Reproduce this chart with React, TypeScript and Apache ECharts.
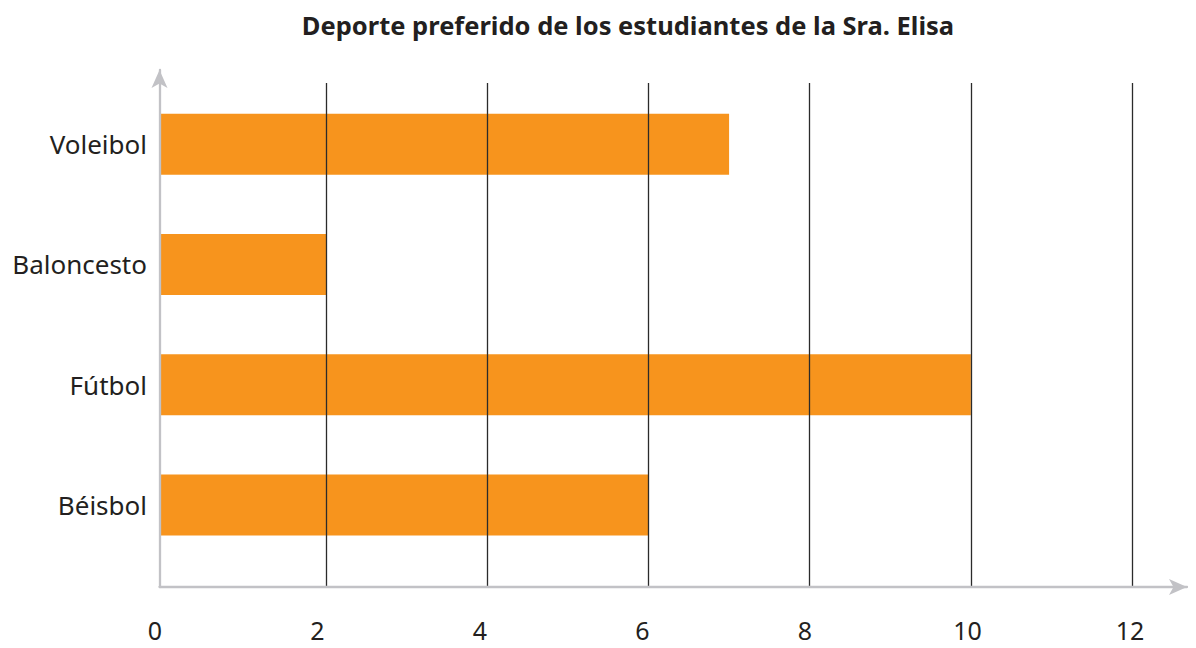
import React, { useEffect, useRef } from "react";
import * as echarts from "echarts";

const categories = ["Voleibol", "Baloncesto", "Fútbol", "Béisbol"];
const values = [7, 2, 10, 6];
const xMin = 0;
const xMax = 12;
const xInterval = 2;
const title = "Deporte preferido de los estudiantes de la Sra. Elisa";

const FONT = "Noto Sans";
const TEXT = "#231f20";
const AXIS = "#c2c2c6";

export default function App() {
  const ref = useRef<HTMLDivElement>(null);
  useEffect(() => {
    document.body.style.margin = "0";
    const chart = echarts.init(ref.current!, null, { renderer: "svg" });
    const option: any = {
      animation: false,
      backgroundColor: "#ffffff",
      textStyle: { fontFamily: FONT },
      graphic: [
        {
          type: "text",
          x: 628,
          y: 25,
          style: {
            text: title,
            fontFamily: FONT,
            fontWeight: "bold",
            fontSize: 25.5,
            fill: TEXT,
            textAlign: "center",
            textVerticalAlign: "middle",
          },
        },
      ],
      grid: [
        { left: 165, right: 64, top: 84, bottom: 83 },
        { left: 165, right: 64, top: 83, bottom: 61 },
        { left: 155, right: 66, top: 83, bottom: 61 },
        { left: 159.5, right: 9, top: 70, bottom: 61 },
      ],
      xAxis: [
        {
          gridIndex: 0, type: "value", min: xMin, max: xMax, startValue: -0.065,
          show: false,
        },
        {
          gridIndex: 1, type: "value", min: xMin, max: xMax, interval: xInterval,
          axisLine: { show: false }, axisTick: { show: false }, axisLabel: { show: false },
          splitLine: { show: true, showMinLine: false, showMaxLine: true, lineStyle: { color: "#2b2b2b", width: 1.3 } },
          z: 3,
        },
        {
          gridIndex: 2, type: "value", min: xMin, max: xMax, interval: xInterval,
          axisLine: { show: false }, axisTick: { show: false }, splitLine: { show: false },
          axisLabel: { show: true, margin: 30, fontSize: 25, color: TEXT, fontFamily: FONT },
        },
        {
          gridIndex: 3, type: "value", min: 0, max: 1,
          axisLine: { show: true, symbol: ["none", "arrow"], symbolSize: [12, 18], lineStyle: { color: AXIS, width: 2.3 } },
          axisTick: { show: false }, axisLabel: { show: false }, splitLine: { show: false },
          z: 4,
        },
      ],
      yAxis: [
        {
          gridIndex: 0, type: "category", data: categories, inverse: true,
          axisLine: { show: false }, axisTick: { show: false }, splitLine: { show: false },
          axisLabel: { show: true, margin: 18, fontSize: 26, color: TEXT, fontFamily: FONT },
        },
        { gridIndex: 1, type: "value", min: 0, max: 1, show: false },
        { gridIndex: 2, type: "value", min: 0, max: 1, show: false },
        {
          gridIndex: 3, type: "value", min: 0, max: 1,
          axisLine: { show: true, symbol: ["none", "arrow"], symbolSize: [12, 18], lineStyle: { color: AXIS, width: 2.3 } },
          axisTick: { show: false }, axisLabel: { show: false }, splitLine: { show: false },
          z: 4,
        },
      ],
      series: [
        {
          type: "bar",
          xAxisIndex: 0,
          yAxisIndex: 0,
          data: values,
          barWidth: 61,
          clip: false,
          itemStyle: { color: "#f7941d" },
          z: 2,
        },
      ],
    };
    chart.setOption(option);
    return () => chart.dispose();
  }, []);
  return <div ref={ref} style={{ width: 1196, height: 648 }} />;
}
